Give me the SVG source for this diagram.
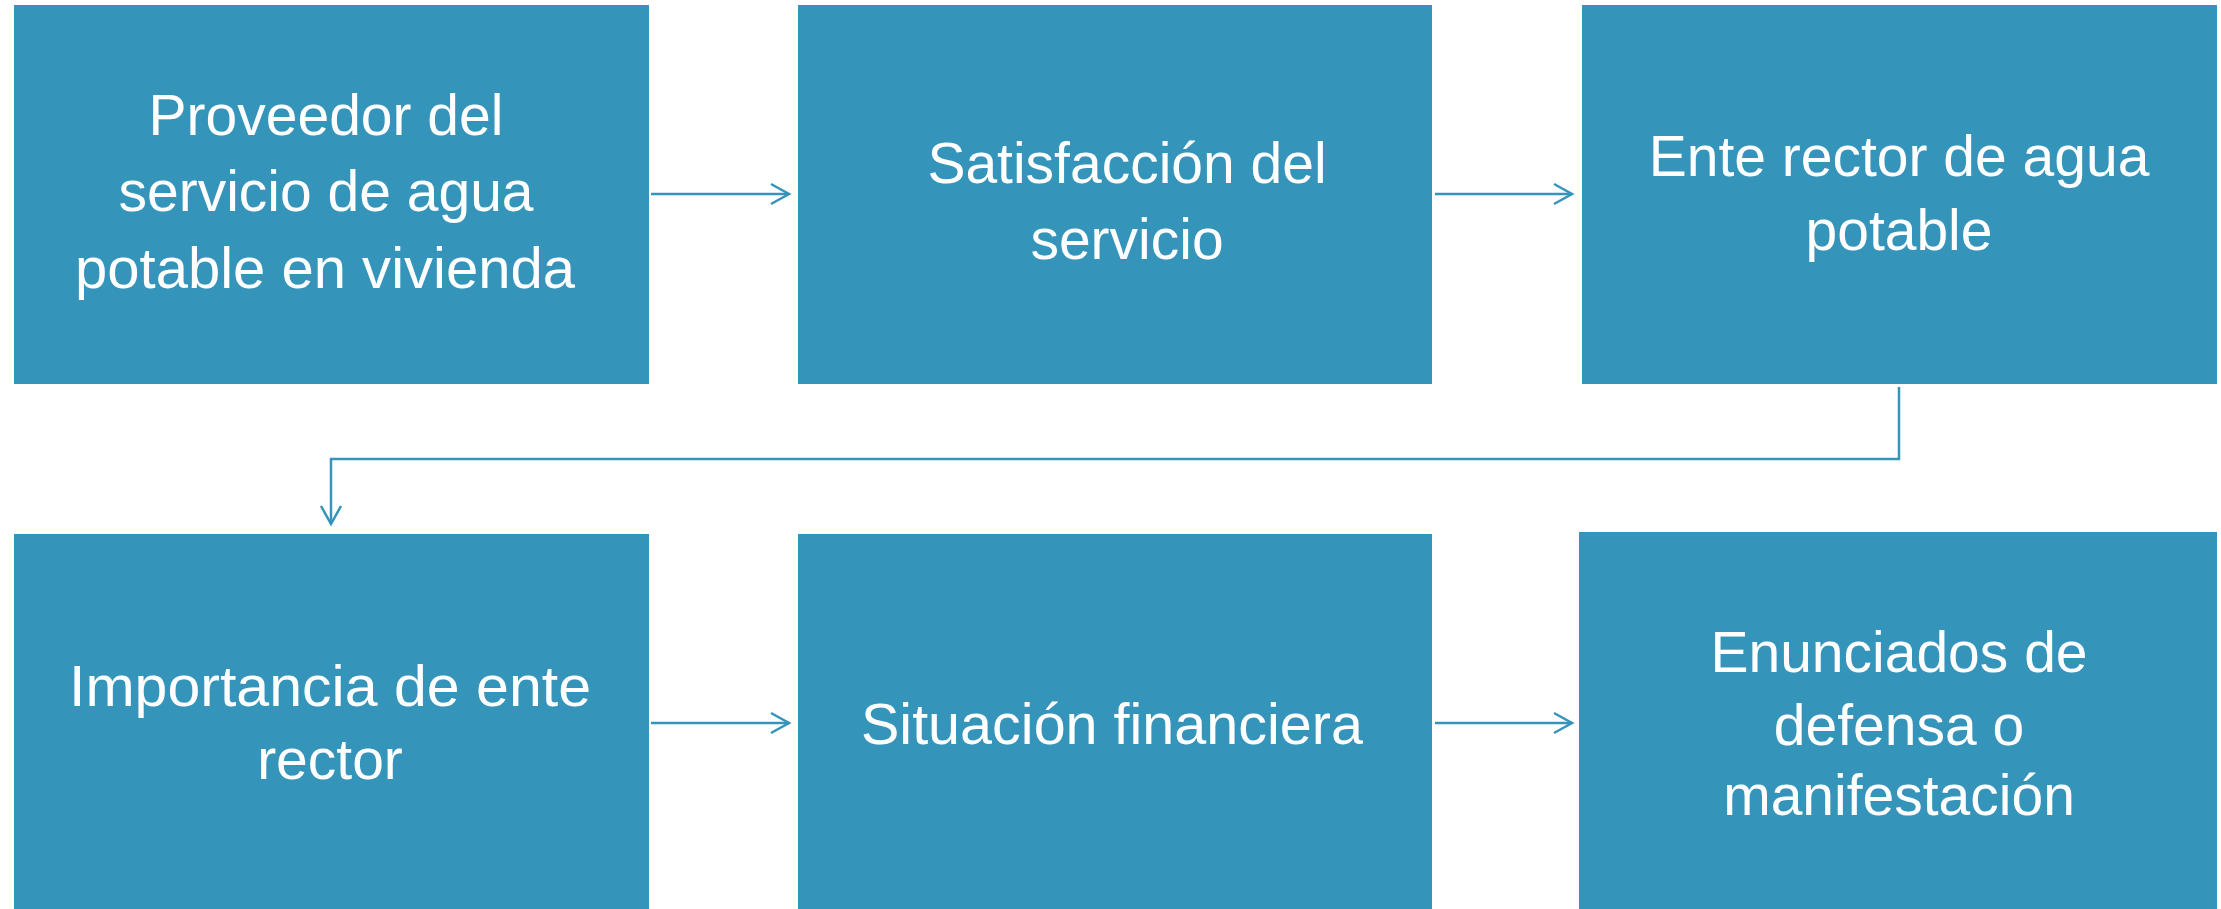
<svg xmlns="http://www.w3.org/2000/svg" width="2221" height="909" viewBox="0 0 2221 909">
<style>
.box{fill:#3594ba;}
.lbl{fill:#ffffff;font-family:"Liberation Sans",Arial,sans-serif;font-size:57px;text-anchor:middle;}
.conn{fill:none;stroke:#3594ba;stroke-width:2.5;}
</style>
<defs>
<marker id="arr" markerUnits="userSpaceOnUse" markerWidth="24" markerHeight="24" refX="19" refY="10" orient="auto" overflow="visible">
<path d="M1,0 L19,10 L1,20" fill="none" stroke="#3594ba" stroke-width="2.5"/>
</marker>
</defs>
<rect width="2221" height="909" fill="#ffffff"/>
<g id="n1"><rect class="box" x="14" y="5" width="635" height="379"/>
<text class="lbl" x="326" y="135">Proveedor del</text>
<text class="lbl" x="326" y="211">servicio de agua</text>
<text class="lbl" x="325" y="288" textLength="500" lengthAdjust="spacingAndGlyphs">potable en vivienda</text></g>
<g id="n2"><rect class="box" x="798" y="5" width="634" height="379"/>
<text class="lbl" x="1127" y="183">Satisfacción del</text>
<text class="lbl" x="1127" y="259">servicio</text></g>
<g id="n3"><rect class="box" x="1582" y="5" width="635" height="379"/>
<text class="lbl" x="1899" y="176">Ente rector de agua</text>
<text class="lbl" x="1899" y="250">potable</text></g>
<g id="n4"><rect class="box" x="14" y="534" width="635" height="378"/>
<text class="lbl" x="330" y="706" textLength="522" lengthAdjust="spacingAndGlyphs">Importancia de ente</text>
<text class="lbl" x="330" y="779">rector</text></g>
<g id="n5"><rect class="box" x="798" y="534" width="634" height="378"/>
<text class="lbl" x="1112" y="744" textLength="502" lengthAdjust="spacingAndGlyphs">Situación financiera</text></g>
<g id="n6"><rect class="box" x="1579" y="532" width="638" height="380"/>
<text class="lbl" x="1899" y="672">Enunciados de</text>
<text class="lbl" x="1899" y="745">defensa o</text>
<text class="lbl" x="1899" y="815">manifestación</text></g>
<g id="connectors">
<path class="conn" d="M651,194 H789" marker-end="url(#arr)"/>
<path class="conn" d="M1435,194 H1572" marker-end="url(#arr)"/>
<path class="conn" d="M1899,387 V459 H331 V524" marker-end="url(#arr)"/>
<path class="conn" d="M651,723 H789" marker-end="url(#arr)"/>
<path class="conn" d="M1435,723 H1572" marker-end="url(#arr)"/>
</g>
</svg>
